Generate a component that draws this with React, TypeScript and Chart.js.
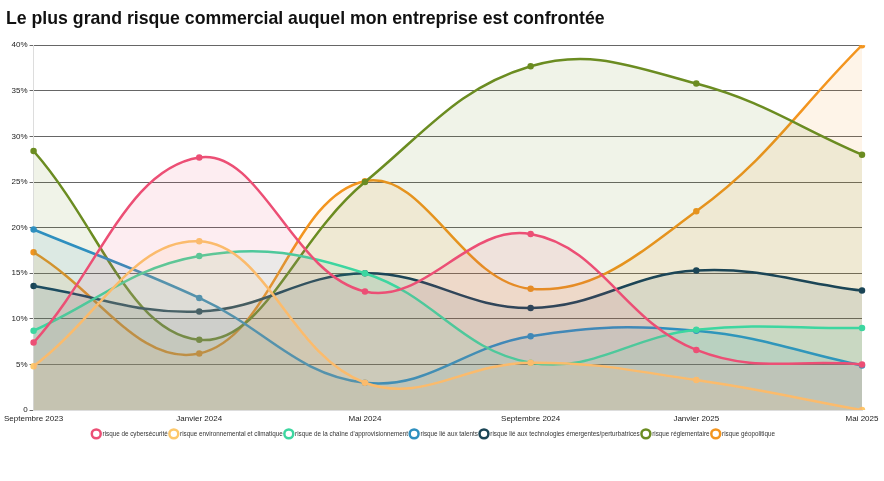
import React, { useEffect, useRef } from "react";
import { Chart, registerables } from "chart.js";

Chart.register(...registerables);

const TITLE = "Le plus grand risque commercial auquel mon entreprise est confrontée";
const categories = ["Septembre 2023", "Janvier 2024", "Mai 2024", "Septembre 2024", "Janvier 2025", "Mai 2025"];

const cyber = [7.4, 27.7, 13.0, 19.3, 6.6, 5.0];
const environnement = [4.8, 18.5, 3.0, 5.2, 3.3, 0];
const chaine = [8.7, 16.9, 15.0, 5.2, 8.8, 9.0];
const talents = [19.8, 12.3, 3.0, 8.1, 8.7, 4.9];
const technologies = [13.6, 10.8, 15.0, 11.2, 15.3, 13.1];
const reglementaire = [28.4, 7.7, 25.0, 37.7, 35.8, 28.0];
const geopolitique = [17.3, 6.2, 25.1, 13.3, 21.8, 40.0];

const seriesNames = [
  "risque de cybersécurité",
  "risque environnemental et climatique",
  "risque de la chaîne d'approvisionnement",
  "risque lié aux talents",
  "risque lié aux technologies émergentes/perturbatrices",
  "risque réglementaire",
  "risque géopolitique",
];
const seriesValues = [cyber, environnement, chaine, talents, technologies, reglementaire, geopolitique];
const seriesColors = [
  [236, 79, 117],
  [253, 200, 107],
  [61, 214, 160],
  [46, 143, 191],
  [27, 69, 86],
  [107, 140, 33],
  [243, 149, 31],
];
const yTicks = [0, 5, 10, 15, 20, 25, 30, 35, 40];

const FONT = "Liberation Sans, Arial, sans-serif";

export default function App() {
  const ref = useRef<HTMLCanvasElement | null>(null);
  useEffect(() => {
    document.body.style.margin = "0";
    const ctx = ref.current!;
    const chart = new Chart(ctx, {
      type: "line",
      data: {
        labels: categories,
        datasets: seriesNames.map((name, i) => {
          const [r, g, b] = seriesColors[i];
          return {
            label: name,
            data: seriesValues[i],
            borderColor: `rgb(${r},${g},${b})`,
            backgroundColor: `rgba(${r},${g},${b},0.1)`,
            pointBackgroundColor: `rgb(${r},${g},${b})`,
            pointBorderColor: `rgb(${r},${g},${b})`,
            pointRadius: 2,
            borderWidth: 2.5,
            tension: 0.4,
            fill: "origin",
          };
        }),
      },
      options: {
        animation: false,
        responsive: false,
        layout: { padding: { left: 6, right: 22, top: 0, bottom: 34 } },
        plugins: {
          title: {
            display: true,
            text: TITLE,
            align: "start",
            color: "#111",
            font: { family: FONT, size: 17.7, weight: "bold" },
            padding: { top: 8, bottom: 16 },
          },
          legend: {
            position: "bottom",
            labels: {
              usePointStyle: true,
              pointStyle: "circle",
              boxWidth: 9,
              boxHeight: 9,
              padding: 3,
              color: "#333",
              font: { family: FONT, size: 6.3 },
              generateLabels: (c: any) =>
                c.data.datasets.map((ds: any, i: number) => ({
                  text: ds.label,
                  fillStyle: "#fff",
                  strokeStyle: ds.borderColor,
                  lineWidth: 2.5,
                  pointStyle: "circle",
                  fontColor: "#333",
                  hidden: false,
                  datasetIndex: i,
                })),
            },
          },
          tooltip: { enabled: false },
        },
        scales: {
          x: {
            offset: false,
            grid: { display: false, drawTicks: false },
            border: { color: "#ddd" },
            ticks: {
              color: "#222",
              font: { family: FONT, size: 8 },
              maxRotation: 0,
              autoSkip: false,
              padding: 4,
            },
          },
          y: {
            min: 0,
            max: 40,
            afterBuildTicks: (axis: any) => {
              axis.ticks = yTicks.map((v) => ({ value: v }));
            },
            afterFit: (axis: any) => {
              axis.width = 27;
            },
            grid: { color: "#666", tickLength: 4, lineWidth: 1 },
            border: { color: "#ddd" },
            ticks: {
              color: "#222",
              font: { family: FONT, size: 8 },
              padding: 2,
              callback: (v: any) => (v === 0 ? "0" : `${v}%`),
            },
          },
        },
      },
    });
    return () => chart.destroy();
  }, []);
  return (
    <div style={{ width: 884, height: 481 }}>
      <canvas ref={ref} width={884} height={481} style={{ width: 884, height: 481, display: "block" }} />
    </div>
  );
}
